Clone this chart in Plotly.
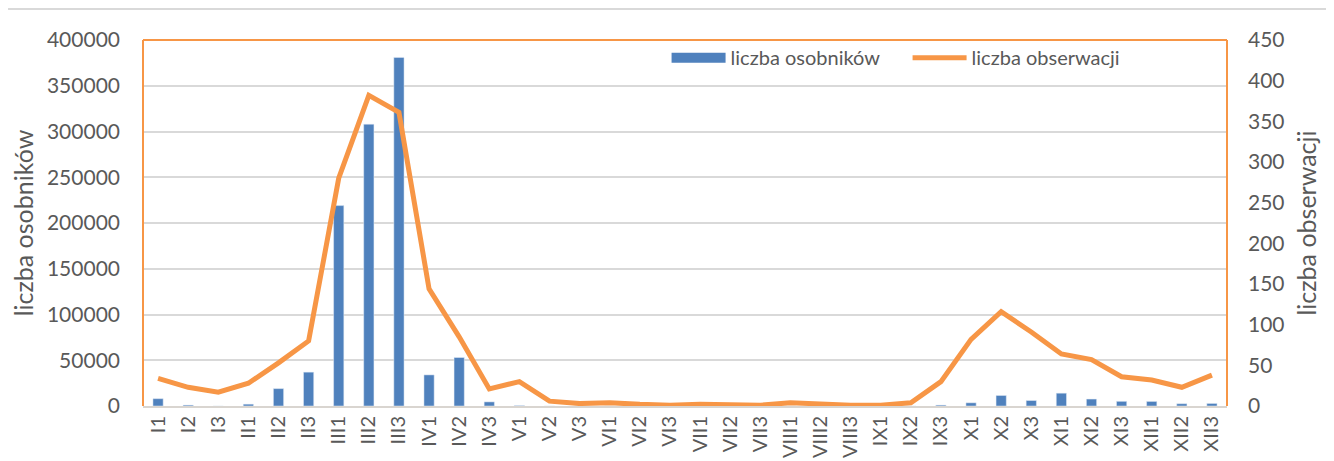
import plotly.graph_objects as go

categories = ["I1", "I2", "I3", "II1", "II2", "II3", "III1", "III2", "III3",
              "IV1", "IV2", "IV3", "V1", "V2", "V3", "VI1", "VI2", "VI3",
              "VII1", "VII2", "VII3", "VIII1", "VIII2", "VIII3", "IX1", "IX2", "IX3",
              "X1", "X2", "X3", "XI1", "XI2", "XI3", "XII1", "XII2", "XII3"]

osobniki = [8000, 1000, 0, 2000, 19000, 37000, 219000, 308000, 381000,
            34000, 53000, 4500, 500, 0, 0, 0, 0, 0,
            0, 0, 0, 0, 0, 0, 0, 0, 1000,
            3500, 11500, 6000, 14000, 7600, 5100, 5000, 2500, 2800]

obserwacje = [34, 23, 17, 28, 53, 80, 280, 382, 361,
              144, 85, 21, 30, 6, 3, 4, 2, 1,
              2, 2, 1, 4, 2, 1, 1, 4, 30,
              82, 116, 91, 64, 57, 36, 32, 23, 38]

FONT = "Lato"
TXT = "#595959"
BLUE = "#4F81BD"
ORANGE = "#F79646"

fig = go.Figure()
fig.add_trace(go.Bar(x=categories, y=osobniki, name="liczba osobników",
                     marker=dict(color=BLUE), yaxis="y", showlegend=False))
# legend-only entry drawn as a wide rectangle like the original legend key
fig.add_trace(go.Scatter(x=[None], y=[None], name="liczba osobników",
                         mode="lines", line=dict(color=BLUE, width=13),
                         yaxis="y"))
fig.add_trace(go.Scatter(x=categories, y=obserwacje, name="liczba obserwacji",
                         mode="lines", line=dict(color=ORANGE, width=5),
                         yaxis="y2"))

fig.update_layout(
    width=1326, height=453,
    margin=dict(l=135, r=107, t=32, b=55),
    paper_bgcolor="white", plot_bgcolor="white",
    font=dict(family=FONT, size=20, color=TXT),
    bargap=0.66,
    showlegend=True,
    legend=dict(orientation="h", x=0.483, y=1.005, xanchor="left", yanchor="top",
                bgcolor="rgba(0,0,0,0)", font=dict(size=20, color=TXT),
                itemwidth=54, entrywidth=172, entrywidthmode="pixels",
                tracegroupgap=0),
    xaxis=dict(type="category", tickangle=-90, showgrid=False, automargin=False,
               showline=True, linecolor="#D9D5D0", linewidth=2,
               ticks="", tickfont=dict(size=20, color=TXT)),
    yaxis=dict(range=[0, 400000], dtick=50000, showgrid=True, automargin=False,
               gridcolor="#D9D9D9", gridwidth=1.5, zeroline=False,
               showline=False, ticks="", tickformat="d", ticklabelstandoff=22,
               title=dict(text="liczba osobników", font=dict(size=25, color=TXT),
                          standoff=12),
               tickfont=dict(size=21, color=TXT)),
    yaxis2=dict(range=[0, 450], dtick=50, overlaying="y", side="right",
                showgrid=False, zeroline=False, showline=False, ticks="",
                ticklabelstandoff=20, automargin=False,
                title=dict(text="liczba obserwacji", font=dict(size=25, color=TXT),
                           standoff=14),
                tickfont=dict(size=21, color=TXT)),
    shapes=[
        dict(type="line", xref="paper", yref="paper", x0=0, x1=0, y0=0, y1=1,
             line=dict(color=ORANGE, width=2)),
        dict(type="line", xref="paper", yref="paper", x0=1, x1=1, y0=0, y1=1,
             line=dict(color=ORANGE, width=2)),
        dict(type="line", xref="paper", yref="paper", x0=0, x1=1, y0=1, y1=1,
             line=dict(color=ORANGE, width=2)),
        dict(type="line", xref="paper", yref="paper", x0=-0.1245, x1=1.0987,
             y0=1.0847, y1=1.0847, line=dict(color="#D9D9D9", width=2)),
    ],
)

fig.write_html("out.html")
